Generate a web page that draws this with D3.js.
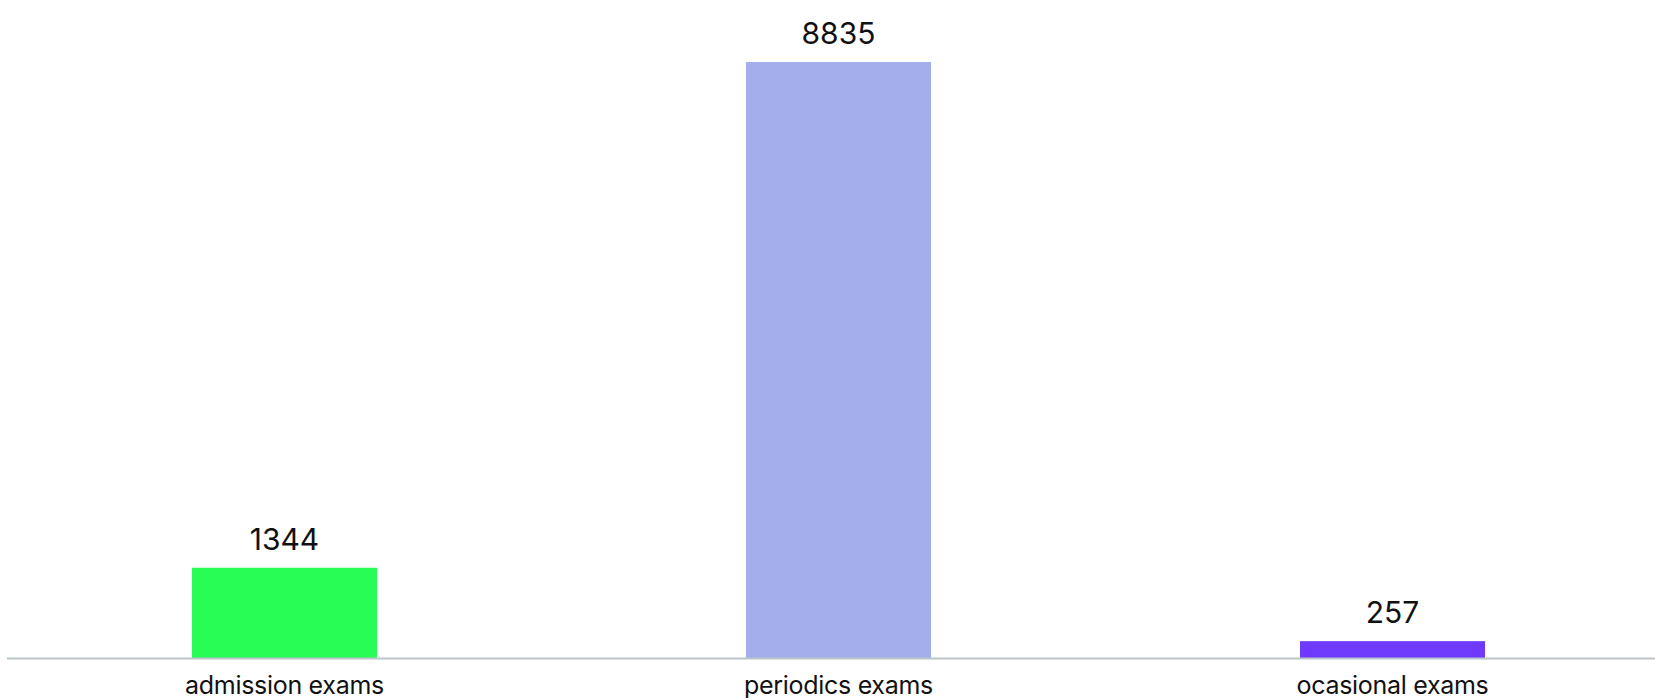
<!DOCTYPE html>
<html>
<head>
<meta charset="utf-8">
<style>
    body
    {
        margin:0;
        background:#fff;
    }
    text
    {
        font-family: Inter, "Noto Sans", sans-serif;
        fill:#111;
    }
</style>
<script src="https://d3js.org/d3.v7.min.js"></script>
</head>
<body>
<svg id="chart"></svg>
<script>
    var categories = ["admission exams", "periodics exams", "ocasional exams"];
    var values = [1344, 8835, 257];
    var colors = ["#28fd55", "#a5aeed", "#6f3afc"];

    var screen = {width:1655, height:698};
    var baseY = 658.5;

    var svg = d3.select("#chart")
        .attr("width", screen.width)
        .attr("height", screen.height);

    var xScale = d3.scaleBand()
        .domain(categories)
        .range([7.5, 1669.5])
        .paddingInner(0.666)
        .paddingOuter(0.333);

    var yScale = d3.scaleLinear()
        .domain([0, d3.max(values)])
        .range([baseY, 62]);

    var rows = categories.map(function(c, i)
    {
        return {name:c, value:values[i], color:colors[i]};
    });

    svg.selectAll("rect")
        .data(rows)
        .enter()
        .append("rect")
        .attr("x", function(d){ return xScale(d.name); })
        .attr("y", function(d){ return yScale(d.value); })
        .attr("width", xScale.bandwidth())
        .attr("height", function(d){ return baseY - yScale(d.value); })
        .attr("fill", function(d){ return d.color; });

    // value labels over the bars
    svg.selectAll(".val")
        .data(rows)
        .enter()
        .append("text")
        .attr("class", "val")
        .attr("x", function(d){ return xScale(d.name) + xScale.bandwidth()/2; })
        .attr("y", function(d){ return yScale(d.value) - 18; })
        .attr("text-anchor", "middle")
        .style("font-size", "30px")
        .text(function(d){ return d.value; });

    // x axis
    var xAxis = d3.axisBottom(xScale).tickSize(0).tickPadding(0);
    var axisG = svg.append("g")
        .attr("transform", "translate(0," + baseY + ")")
        .call(xAxis);
    axisG.select(".domain").remove();
    axisG.append("line")
        .attr("x1", 7)
        .attr("x2", screen.width)
        .attr("stroke", "#bac6ca")
        .attr("stroke-width", 2);
    axisG.selectAll(".tick text")
        .attr("y", 35.5)
        .attr("dy", null)
        .style("font-size", "25px")
        .style("letter-spacing", "-0.3px")
        .attr("fill", "#111")
        .attr("font-family", "Inter, 'Noto Sans', sans-serif");
</script>
</body>
</html>
